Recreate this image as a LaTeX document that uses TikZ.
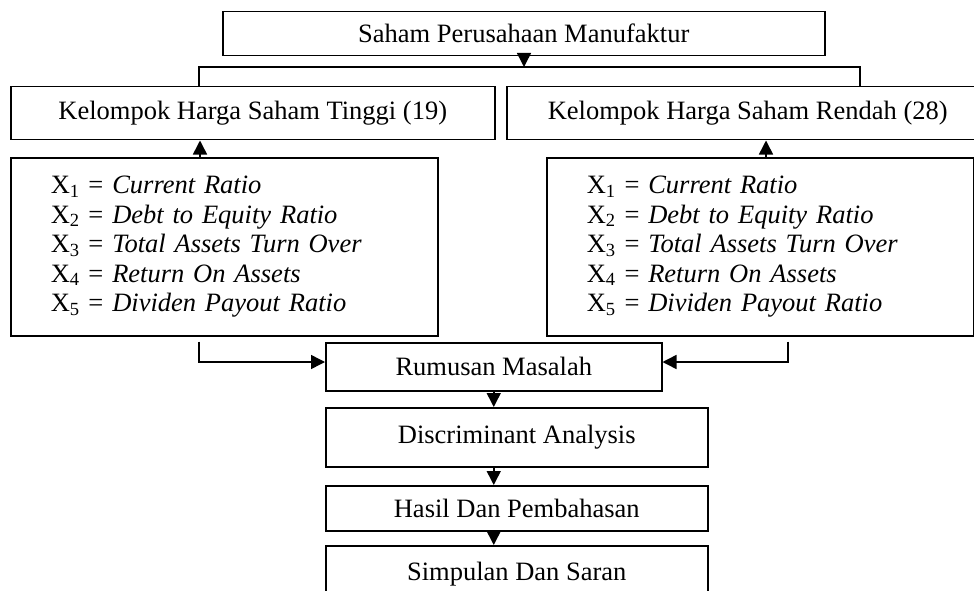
\documentclass[tikz,border=0pt]{standalone}
\usepackage{fontspec}
\setmainfont{Liberation Serif}
\usepackage{tikz}
\usetikzlibrary{arrows.meta}

\begin{document}
\begin{tikzpicture}[x=1pt,y=-1pt,->,>={Triangle[length=14pt,width=14pt]},line width=1.5pt]
\tikzstyle{box}=[draw=black,anchor=north west,inner sep=0pt,font=\fontsize{26.5}{29.6}\selectfont]
\tikzstyle{vars}=[box,align=left,text width=347pt,inner xsep=40pt,minimum height=178pt]

\clip (0,0) rectangle (974,591);

\node[box,minimum width=602pt,minimum height=44pt] (S)  at (222,11)  {Saham Perusahaan Manufaktur};
\node[box,minimum width=484pt,minimum height=53pt] (K1) at (10,86)   {Kelompok Harga Saham Tinggi (19)};
\node[box,minimum width=482pt,minimum height=53pt] (K2) at (506,86)  {Kelompok Harga Saham Rendah (28)};
\node[vars] (V1) at (10,157)  {X\textsubscript{1} = \textit{Current Ratio}\\
X\textsubscript{2} = \textit{Debt to Equity Ratio}\\
X\textsubscript{3} = \textit{Total Assets Turn Over}\\
X\textsubscript{4} = \textit{Return On Assets}\\
X\textsubscript{5} = \textit{Dividen Payout Ratio}};
\node[vars] (V2) at (546,157) {X\textsubscript{1} = \textit{Current Ratio}\\
X\textsubscript{2} = \textit{Debt to Equity Ratio}\\
X\textsubscript{3} = \textit{Total Assets Turn Over}\\
X\textsubscript{4} = \textit{Return On Assets}\\
X\textsubscript{5} = \textit{Dividen Payout Ratio}};
\node[box,minimum width=336pt,minimum height=48pt] (R) at (325,342) {Rumusan Masalah};
\node[box,minimum width=382pt,minimum height=59pt] (D) at (325,407) {Discriminant Analysis};
\node[box,minimum width=382pt,minimum height=45pt] (H) at (325,485) {Hasil Dan Pembahasan};
\node[box,minimum width=382pt,minimum height=56pt] (P) at (325,545) {Simpulan Dan Saran};

\coordinate (B)  at (524,67);
\coordinate (BL) at (199,67);
\coordinate (BR) at (860,67);
\coordinate (a1) at (200,0);
\coordinate (a2) at (766,0);
\coordinate (c1) at (199,362);
\coordinate (c2) at (788,362);

\draw[-] (K1.north -| BL) -- (BL) -- (BR) -- (K2.north -| BR);
\draw ([yshift=-5pt]V1.south -| c1) -- (c1) -- (c1 -| R.west);
\draw ([yshift=-5pt]V2.south -| c2) -- (c2) -- (c2 -| R.east);
\path (S.south -| B) edge (B)
(V1.north -| a1) edge (K1.south -| a1)
(V2.north -| a2) edge (K2.south -| a2)
(R.south) edge (R.south |- D.north)
(R.south |- D.south) edge (R.south |- H.north)
(R.south |- H.south) edge (R.south |- P.north);
\end{tikzpicture}
\end{document}
